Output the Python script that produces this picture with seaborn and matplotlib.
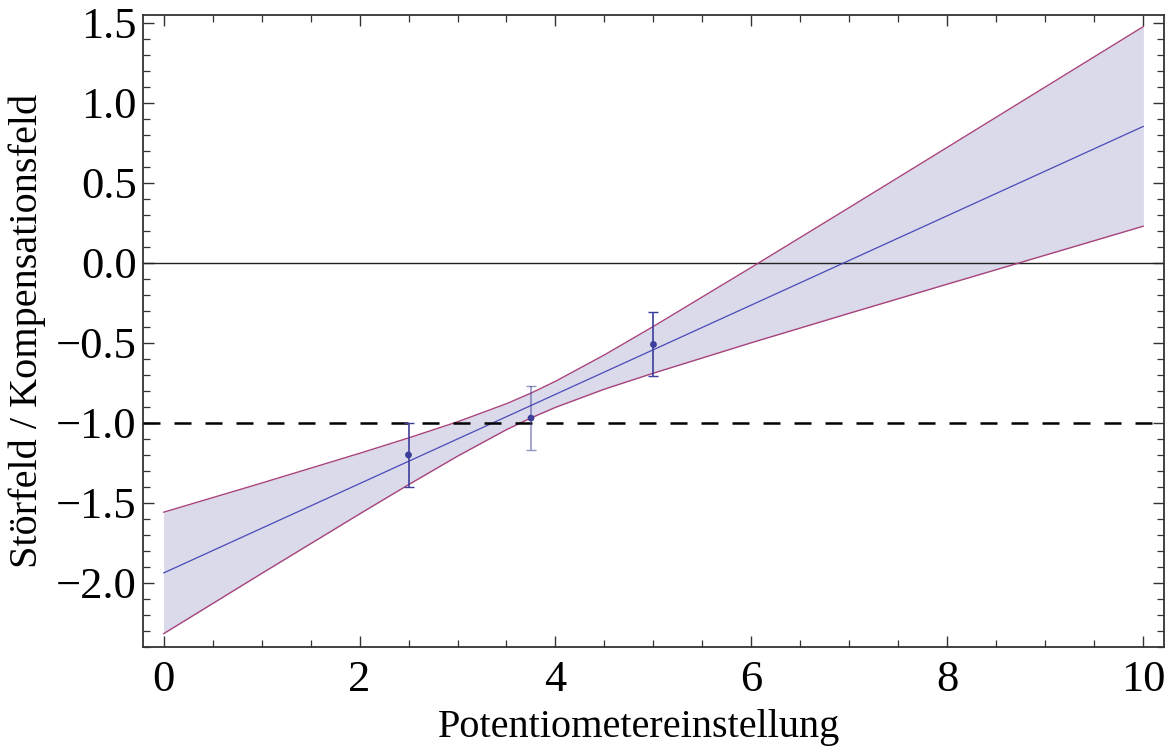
import numpy as np
import pandas as pd
import matplotlib
matplotlib.use("Agg")
import matplotlib.pyplot as plt
import seaborn as sns
from matplotlib.ticker import MultipleLocator

# --- data ---
meas_x = [2.5, 3.75, 5.0]
meas_y = [-1.20, -0.97, -0.51]
meas_err = [0.20, 0.20, 0.20]

fit_x = [0.0, 10.0]
fit_y = [-1.9375, 0.8525]

band_x = [0.0, 1.0, 2.0, 2.5, 3.0, 3.5, 3.75, 4.0, 4.5, 5.0, 6.0, 7.0, 8.0, 9.0, 10.0]
band_upper = [-1.558, -1.376, -1.190, -1.094, -0.993, -0.880, -0.814, -0.740,
              -0.575, -0.397, -0.028, 0.346, 0.722, 1.099, 1.476]
band_lower = [-2.317, -1.941, -1.569, -1.386, -1.208, -1.042, -0.969, -0.903,
              -0.789, -0.689, -0.499, -0.315, -0.133, 0.048, 0.229]

reference_level = -1.0

x_label = "Potentiometereinstellung"
y_label = "Störfeld / Kompensationsfeld"

sns.set_theme(style="ticks")
plt.rcParams["font.family"] = ["Liberation Serif", "DejaVu Serif"]

fig = plt.figure(figsize=(11.69, 7.52), dpi=100)
ax = fig.add_axes([0.1223, 0.1396, 0.9957 - 0.1223, 0.9796 - 0.1396])

band_df = pd.DataFrame({"x": band_x, "upper": band_upper, "lower": band_lower})
fit_df = pd.DataFrame({"x": fit_x, "y": fit_y})
meas_df = pd.DataFrame({"x": meas_x, "y": meas_y, "err": meas_err})

band_fill = "#dadaeb"
edge_col = "#a8447c"
fit_col = "#4a4ab8"
pt_col = "#3d3d9a"

ax.fill_between(band_df["x"], band_df["lower"], band_df["upper"],
                color=band_fill, linewidth=0, zorder=1)
sns.lineplot(data=band_df, x="x", y="upper", ax=ax, color=edge_col, lw=1.0, zorder=3)
sns.lineplot(data=band_df, x="x", y="lower", ax=ax, color=edge_col, lw=1.0, zorder=3)
sns.lineplot(data=fit_df, x="x", y="y", ax=ax, color=fit_col, lw=0.9, zorder=3)

ax.axhline(0, color="#222222", lw=1.0, zorder=2)
ax.axhline(reference_level, color="black", lw=1.8, dashes=(6.8, 5.6), zorder=4)

for i, row in meas_df.iterrows():
    a = 0.55 if i == 1 else 1.0
    ax.errorbar(row["x"], row["y"], yerr=row["err"], fmt="none",
                ecolor=pt_col, elinewidth=1.2, capsize=3.5, capthick=1.0,
                alpha=a, zorder=5)
sns.scatterplot(data=meas_df, x="x", y="y", ax=ax, color=pt_col, s=24,
                edgecolor="none", zorder=6)

ax.set_xlim(-0.21, 10.21)
ax.set_ylim(-2.4, 1.546)

ax.xaxis.set_major_locator(MultipleLocator(2))
ax.xaxis.set_minor_locator(MultipleLocator(0.5))
ax.yaxis.set_major_locator(MultipleLocator(0.5))
ax.yaxis.set_minor_locator(MultipleLocator(0.1))
ax.yaxis.set_major_formatter(matplotlib.ticker.FuncFormatter(
    lambda v, p: ("\u2212" if v < -1e-9 else "") + f"{abs(v):.1f}"))

for s in ax.spines.values():
    s.set_visible(True)
    s.set_color("#333333")
    s.set_linewidth(1.3)

ax.tick_params(which="both", direction="in", top=True, right=True,
               colors="#333333", labelcolor="black", labelsize=32)
ax.tick_params(which="major", length=8, width=1.0)
ax.tick_params(which="minor", length=5, width=0.9)
ax.tick_params(axis="x", which="major", pad=9)
ax.tick_params(axis="y", which="major", pad=4.5)

ax.set_xlabel(x_label, fontsize=29, color="black")
ax.set_ylabel(y_label, fontsize=29, color="black")
ax.xaxis.label.set_va("center")
ax.yaxis.label.set_va("center")
ax.xaxis.set_label_coords(0.486, -0.128)
ax.yaxis.set_label_coords(-0.1136, 0.5)

fig.savefig("out.png", dpi=100)
